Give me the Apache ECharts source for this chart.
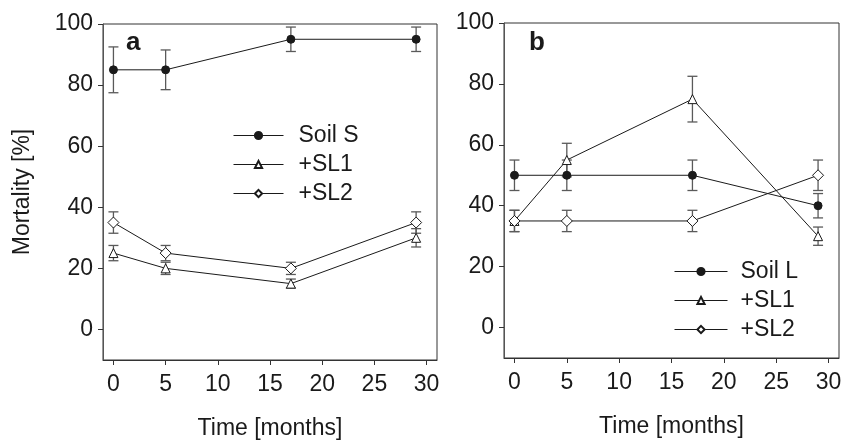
<!DOCTYPE html>
<html>
<head>
<meta charset="utf-8" />
<title>Mortality</title>
<script type="text/javascript" src="https://cdn.jsdelivr.net/npm/echarts@6/dist/echarts.min.js"></script>
</head>
<body style="margin:0">
<div id="chart" style="width:841px; height:440px"></div>
<script type="text/javascript">
// time points (months)
var months = [0, 5, 17, 29];

// panel a
var soilS = [85, 85, 95, 95];
var soilSErr = [7.5, 6.5, 4, 4];
var sl1A = [25, 20, 15, 30];
var sl1AErr = [2.5, 2, 1.5, 3];
var sl2A = [35, 25, 20, 35];
var sl2AErr = [3.5, 2.5, 2, 3.5];

// panel b
var soilL = [50, 50, 50, 40];
var soilLErr = [5, 5, 5, 4];
var sl1B = [35, 55, 75, 30];
var sl1BErr = [3.5, 5.5, 7.5, 3];
var sl2B = [35, 35, 35, 50];
var sl2BErr = [3.5, 3.5, 3.5, 5];

var xTicks = [0, 5, 10, 15, 20, 25, 30];
var yTicks = [0, 20, 40, 60, 80, 100];

var font = 'Liberation Sans, Arial, sans-serif';
var ink = '#1a1a1a';
var errColor = '#5a5a5a';
var fs = 23;

function pts(ys) {
    return months.map(function (m, i) { return [m, ys[i]]; });
}
function errs(ys, es) {
    return months.map(function (m, i) { return [m, ys[i] - es[i], ys[i] + es[i]]; });
}

function errSeries(idx, ys, es) {
    return {
        type: 'custom',
        xAxisIndex: idx,
        yAxisIndex: idx,
        z: 1,
        silent: true,
        data: errs(ys, es),
        renderItem: function (params, api) {
            var lo = api.coord([api.value(0), api.value(1)]);
            var hi = api.coord([api.value(0), api.value(2)]);
            var w = 5;
            var st = { stroke: errColor, lineWidth: 1.3 };
            return {
                type: 'group',
                children: [
                    { type: 'line', shape: { x1: lo[0], y1: lo[1], x2: hi[0], y2: hi[1] }, style: st },
                    { type: 'line', shape: { x1: lo[0] - w, y1: lo[1], x2: lo[0] + w, y2: lo[1] }, style: st },
                    { type: 'line', shape: { x1: hi[0] - w, y1: hi[1], x2: hi[0] + w, y2: hi[1] }, style: st }
                ]
            };
        }
    };
}

function lineSeries(idx, name, ys, symbol, fill, size) {
    return {
        name: name,
        type: 'line',
        xAxisIndex: idx,
        yAxisIndex: idx,
        z: 3,
        data: pts(ys),
        symbol: symbol,
        symbolSize: size,
        showAllSymbol: true,
        lineStyle: { color: ink, width: 1 },
        itemStyle: { color: fill, borderColor: ink, borderWidth: 1 }
    };
}

function xAxis(idx) {
    return {
        type: 'value',
        gridIndex: idx,
        min: -1,
        max: 31,
        name: 'Time [months]',
        nameLocation: 'middle',
        nameGap: 57,
        nameTextStyle: { fontFamily: font, fontSize: fs, color: ink },
        axisLine: { show: true, onZero: false, lineStyle: { color: '#333' } },
        axisTick: { show: true, inside: false, length: 5, customValues: xTicks, lineStyle: { color: '#333' } },
        axisLabel: { customValues: xTicks, margin: 13, fontFamily: font, fontSize: fs, color: ink },
        splitLine: { show: false }
    };
}

function yAxis(idx, withName) {
    return {
        type: 'value',
        gridIndex: idx,
        min: -10,
        max: 100,
        name: withName ? 'Mortality [%]' : '',
        nameLocation: 'middle',
        nameGap: 69,
        nameTextStyle: { fontFamily: font, fontSize: fs, color: ink },
        axisLine: { show: true, onZero: false, lineStyle: { color: '#555' } },
        axisTick: { show: true, inside: false, length: 5, customValues: yTicks, lineStyle: { color: '#333' } },
        axisLabel: { customValues: yTicks, margin: 10, fontFamily: font, fontSize: fs, color: ink },
        splitLine: { show: false }
    };
}

var chart = echarts.init(document.getElementById('chart'), null, { renderer: 'canvas' });

chart.setOption({
    animation: false,
    backgroundColor: '#fff',
    grid: [
        { left: 103, top: 24, width: 334, height: 336, outerBoundsMode: 'none', show: true, borderColor: '#333', borderWidth: 1 },
        { left: 504, top: 23, width: 335, height: 335, outerBoundsMode: 'none', show: true, borderColor: '#333', borderWidth: 1 }
    ],
    xAxis: [xAxis(0), xAxis(1)],
    yAxis: [yAxis(0, true), yAxis(1, false)],
    legend: [
        {
            data: ['Soil S', '+SL1', '+SL2'],
            orient: 'vertical',
            left: 228,
            top: 119,
            itemWidth: 50,
            itemHeight: 9,
            itemGap: 6,
            selectedMode: false,
            lineStyle: { width: 1 },
            textStyle: { fontFamily: font, fontSize: fs, color: ink, padding: [0, 0, 0, 10] }
        },
        {
            data: ['Soil L', '+SL1', '+SL2'],
            orient: 'vertical',
            left: 669,
            top: 255,
            itemWidth: 53,
            itemHeight: 9,
            itemGap: 6,
            selectedMode: false,
            lineStyle: { width: 1 },
            textStyle: { fontFamily: font, fontSize: fs, color: ink, padding: [0, 0, 0, 8] }
        }
    ],
    graphic: [
        { type: 'text', left: 126, top: 30, style: { text: 'a', fontFamily: font, fontSize: 26, fontWeight: 'bold', fill: ink } },
        { type: 'text', left: 529, top: 30, style: { text: 'b', fontFamily: font, fontSize: 26, fontWeight: 'bold', fill: ink } }
    ],
    series: [
        errSeries(0, soilS, soilSErr),
        errSeries(0, sl1A, sl1AErr),
        errSeries(0, sl2A, sl2AErr),
        lineSeries(0, 'Soil S', soilS, 'circle', ink, 8),
        lineSeries(0, '+SL1', sl1A, 'triangle', '#fff', 9),
        lineSeries(0, '+SL2', sl2A, 'diamond', '#fff', 11),
        errSeries(1, soilL, soilLErr),
        errSeries(1, sl1B, sl1BErr),
        errSeries(1, sl2B, sl2BErr),
        lineSeries(1, 'Soil L', soilL, 'circle', ink, 8),
        lineSeries(1, '+SL1', sl1B, 'triangle', '#fff', 9),
        lineSeries(1, '+SL2', sl2B, 'diamond', '#fff', 11)
    ]
});
</script>
</body>
</html>
